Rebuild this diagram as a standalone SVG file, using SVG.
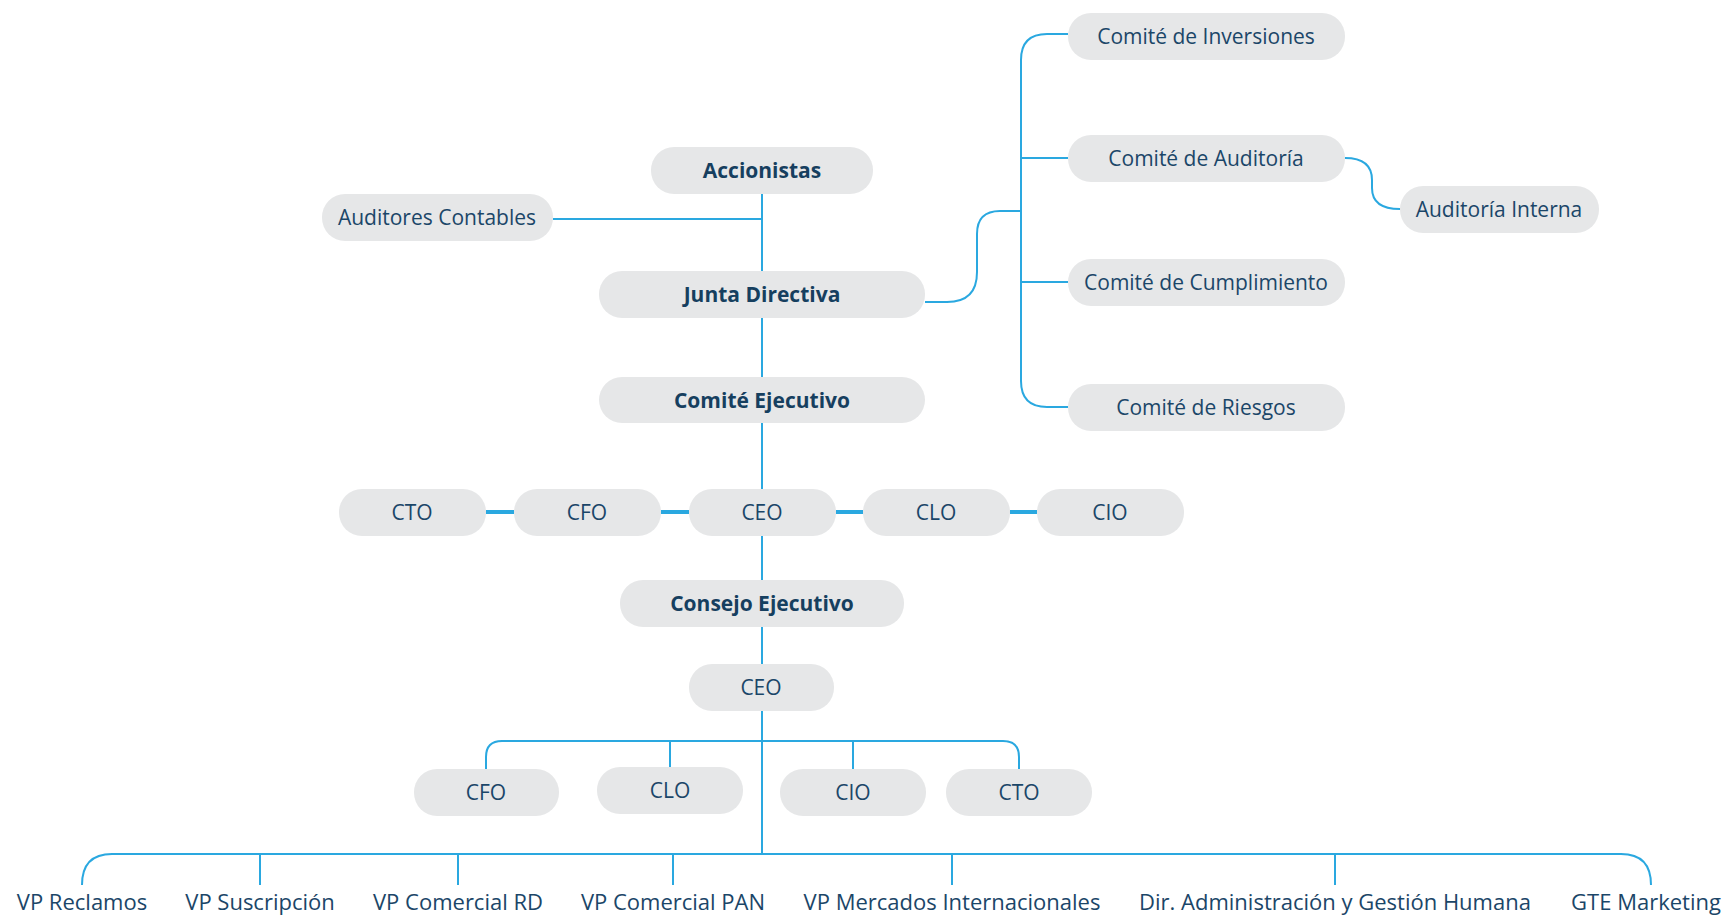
<svg xmlns="http://www.w3.org/2000/svg" width="1722" height="917" viewBox="0 0 1722 917">
<style>
.n rect{fill:#e6e7e8}
.n text{font-family:"Open Sans","Noto Sans","Liberation Sans",sans-serif;font-size:21px;fill:#1b4668;text-anchor:middle}
.n text.b{font-weight:bold;fill:#163f5f}
.lab{font-family:"Open Sans","Noto Sans","Liberation Sans",sans-serif;font-size:22px;fill:#1b4668;text-anchor:middle}
.c path{fill:none;stroke:#2aa8e0;stroke-width:2}
.c path.t{stroke-width:4}
</style>
<rect width="1722" height="917" fill="#ffffff"/>
<g id="connectors" class="c">
<path d="M762 194 V854"/>
<path d="M553 219 H762"/>
<path d="M925 302 H947 Q977 302 977 272 V234 Q977 211 1000 211 H1021"/>
<path d="M1068 34 H1047 Q1021 34 1021 60 V381 Q1021 407 1047 407 H1068"/>
<path d="M1021 158 H1068"/>
<path d="M1021 282 H1068"/>
<path d="M1345 158 Q1372 158 1372 180 V188 Q1372 209 1400 209"/>
<path class="t" d="M486 512 H514 M661 512 H689 M836 512 H863 M1010 512 H1037"/>
<path d="M486 769 V757 Q486 741 502 741 H1003 Q1019 741 1019 757 V769"/>
<path d="M670 741 V767 M853 741 V769"/>
<path d="M82 885 Q82 854 112 854 H1621 Q1651 854 1651 885"/>
<path d="M260 854 V885 M458 854 V885 M673 854 V885 M952 854 V885 M1335 854 V885"/>
</g>
<g id="accionistas" class="n"><rect x="651" y="147" width="222" height="47" rx="23"/><text class="b" x="762" y="178">Accionistas</text></g>
<g id="auditores" class="n"><rect x="322" y="194" width="231" height="47" rx="23"/><text x="437" y="225">Auditores Contables</text></g>
<g id="junta" class="n"><rect x="599" y="271" width="326" height="47" rx="23"/><text class="b" x="762" y="302">Junta Directiva</text></g>
<g id="comite-ejecutivo" class="n"><rect x="599" y="377" width="326" height="46" rx="23"/><text class="b" x="762" y="408">Comité Ejecutivo</text></g>
<g id="inversiones" class="n"><rect x="1068" y="13" width="277" height="47" rx="23"/><text x="1206" y="44">Comité de Inversiones</text></g>
<g id="auditoria" class="n"><rect x="1068" y="135" width="277" height="47" rx="23"/><text x="1206" y="166">Comité de Auditoría</text></g>
<g id="auditoria-interna" class="n"><rect x="1400" y="186" width="199" height="47" rx="23"/><text x="1499" y="217">Auditoría Interna</text></g>
<g id="cumplimiento" class="n"><rect x="1068" y="259" width="277" height="47" rx="23"/><text x="1206" y="290">Comité de Cumplimiento</text></g>
<g id="riesgos" class="n"><rect x="1068" y="384" width="277" height="47" rx="23"/><text x="1206" y="415">Comité de Riesgos</text></g>
<g id="cto1" class="n"><rect x="339" y="489" width="147" height="47" rx="23"/><text x="412" y="520">CTO</text></g>
<g id="cfo1" class="n"><rect x="514" y="489" width="147" height="47" rx="23"/><text x="587" y="520">CFO</text></g>
<g id="ceo1" class="n"><rect x="689" y="489" width="147" height="47" rx="23"/><text x="762" y="520">CEO</text></g>
<g id="clo1" class="n"><rect x="863" y="489" width="147" height="47" rx="23"/><text x="936" y="520">CLO</text></g>
<g id="cio1" class="n"><rect x="1037" y="489" width="147" height="47" rx="23"/><text x="1110" y="520">CIO</text></g>
<g id="consejo" class="n"><rect x="620" y="580" width="284" height="47" rx="23"/><text class="b" x="762" y="611">Consejo Ejecutivo</text></g>
<g id="ceo2" class="n"><rect x="689" y="664" width="145" height="47" rx="23"/><text x="761" y="695">CEO</text></g>
<g id="cfo2" class="n"><rect x="414" y="769" width="145" height="47" rx="23"/><text x="486" y="800">CFO</text></g>
<g id="clo2" class="n"><rect x="597" y="767" width="146" height="47" rx="23"/><text x="670" y="798">CLO</text></g>
<g id="cio2" class="n"><rect x="780" y="769" width="146" height="47" rx="23"/><text x="853" y="800">CIO</text></g>
<g id="cto2" class="n"><rect x="946" y="769" width="146" height="47" rx="23"/><text x="1019" y="800">CTO</text></g>
<g id="vp-reclamos"><text class="lab" x="82" y="910">VP Reclamos</text></g>
<g id="vp-suscripcion"><text class="lab" x="260" y="910">VP Suscripción</text></g>
<g id="vp-comercial-rd"><text class="lab" x="458" y="910">VP Comercial RD</text></g>
<g id="vp-comercial-pan"><text class="lab" x="673" y="910">VP Comercial PAN</text></g>
<g id="vp-mercados"><text class="lab" x="952" y="910">VP Mercados Internacionales</text></g>
<g id="dir-admin"><text class="lab" x="1335" y="910">Dir. Administración y Gestión Humana</text></g>
<g id="gte-marketing"><text class="lab" x="1646" y="910">GTE Marketing</text></g>
</svg>
